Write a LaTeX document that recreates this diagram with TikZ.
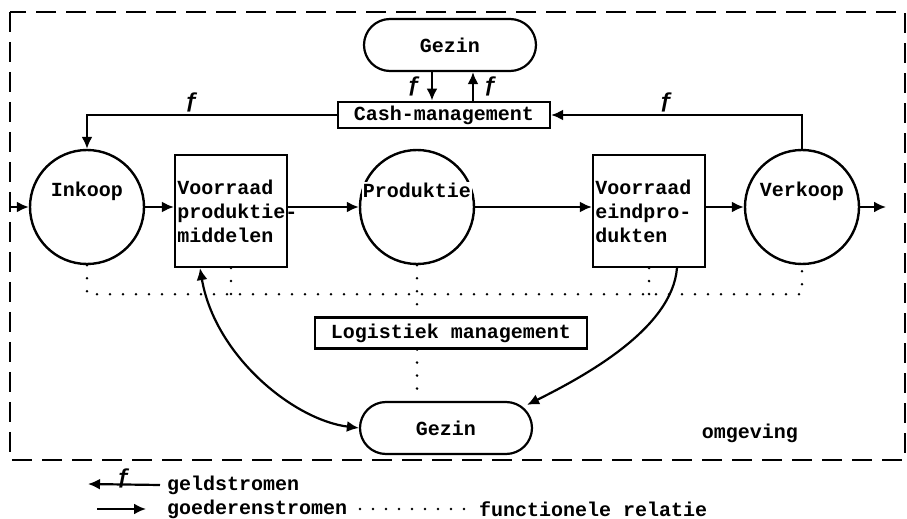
\documentclass[tikz,border=0pt]{standalone}
\usepackage{fontspec}
\setmainfont{Liberation Mono}
\usetikzlibrary{arrows.meta, positioning, calc}

\begin{document}
\begin{tikzpicture}[x=0.5pt, y=-0.5pt,
    every node/.style={font=\fontsize{10}{12}\selectfont\bfseries},
    proc/.style={draw, circle, line width=1.2pt, minimum size=57pt, inner sep=0pt},
    store/.style={draw, line width=1.1pt, minimum width=56pt, minimum height=56pt, inner sep=0pt},
    household/.style={draw, line width=1.1pt, rounded corners=13pt, minimum width=86pt, minimum height=26pt},
    mgmt/.style={draw, line width=1.1pt, inner sep=2pt},
    arrow/.style={-{Latex[length=6pt, width=5.5pt]}, line width=1.1pt},
    twoway/.style={{Latex[length=6pt, width=5.5pt]}-{Latex[length=6pt, width=5.5pt]}, line width=1.1pt},
    rel/.style={line width=1.4pt, dash pattern=on 0pt off 6.5pt, line cap=round},
    money/.style={font=\fontsize{11}{12}\selectfont\bfseries, inner sep=1pt}
]
    \useasboundingbox (0,0) rectangle (907,519);

    % Omgeving (environment)
    \draw[line width=1.1pt, dash pattern=on 10pt off 5pt] (10,12) rectangle (905,460);
    \node (omg) at (750,433) {omgeving};

    % Households and management
    \node[household] (gz1) at (450,45) {Gezin};
    \node[mgmt, minimum width=106pt, minimum height=13pt] (cash) at (444,115) {Cash-management};
    \node[mgmt, minimum width=136pt, minimum height=15.5pt] (log) at (451,333) {Logistiek management};
    \node[household] (gz2) at (446,428) {Gezin};

    % Process chain
    \node[proc] (ink) at (87,207) {};
    \node (inklbl) at ([yshift=8pt]ink.center) {Inkoop};

    \node[store] (vpm) at (231,211) {};
    \node[anchor=west, align=left, inner sep=0.5pt] (vpmlbl) at ([xshift=1pt]vpm.west) {Voorraad\\produktie-\\middelen};

    \node[proc] (prod) at (417,207) {};
    \node[fill=white, inner sep=0.5pt] (prodlbl) at ([yshift=8.5pt]prod.center) {Produktie};

    \node[store] (vep) at (649,211) {};
    \node[anchor=west, align=left, inner sep=0.5pt] (veplbl) at ([xshift=1pt]vep.west) {Voorraad\\eindpro-\\dukten};

    \node[proc] (vk) at (802,207) {};
    \node (vklbl) at ([yshift=8pt]vk.center) {Verkoop};

    % Goederenstromen
    \coordinate (in) at (10,207);
    \coordinate (out) at (886,207);
    \draw[arrow] (in) -- (ink.west);
    \draw[arrow] (ink.east) -- (ink.east -| vpm.west);
    \draw[arrow] (vpm.east |- prod.west) -- (prod.west);
    \draw[arrow] (prod.east) -- (prod.east -| vep.west);
    \draw[arrow] (vep.east |- vk.west) -- (vk.west);
    \draw[arrow] (vk.east) -- (out);

    \draw[twoway] ([xshift=-15.5pt]vpm.south) .. controls +(15,88) and +(-65,-8) .. (gz2.west);
    \draw[arrow] ([xshift=14pt]vep.south) .. controls +(-5,60) and +(60,-30) .. ([xshift=-3pt, yshift=-2pt]gz2.north east);

    % Geldstromen
    \draw[arrow] (cash.west) -| node[money, pos=0.29, above] (f1) {ƒ} (ink.north);
    \draw[arrow] (vk.north) |- node[money, pos=0.77, above] (f4) {ƒ} (cash.east);
    \draw[arrow] ([xshift=-9pt]gz1.south) -- node[money, left=4pt] (f2) {ƒ} ([xshift=-6pt]cash.north);
    \draw[arrow] ([xshift=14.5pt]cash.north) -- node[money, right=4pt] (f3) {ƒ} ([xshift=11.5pt]gz1.south);

    % Functionele relaties
    \draw[rel] (ink.south) -- ++(0,29) coordinate (fl) -| (vk.south);
    \draw[rel] (vpm.south) -- (vpm.south |- fl);
    \draw[rel] (vep.south) -- (vep.south |- fl);
    \draw[rel] (prod.south) -- (prod.south |- log.north);
    \draw[rel] (log.south -| prod.south) -- (gz2.north -| prod.south);

    % Legend
    \node[anchor=west] (lg1) at (160,485) {geldstromen};
    \node[anchor=west] (lg2) at (160,509) {goederenstromen};
    \node[anchor=west] (lg3) at (472,509) {functionele relatie};
    \coordinate (l1) at (88,484);
    \coordinate (l2) at (97,509);
    \coordinate (l3) at (360,509);
    \draw[arrow] (lg1.west) -- node[money, pos=0.5, yshift=3pt, inner sep=0pt] (f5) {ƒ} (l1);
    \draw[arrow] (l2) -- ([xshift=-7pt]lg2.west);
    \draw[rel] (l3) -- (lg3.west);
\end{tikzpicture}
\end{document}
